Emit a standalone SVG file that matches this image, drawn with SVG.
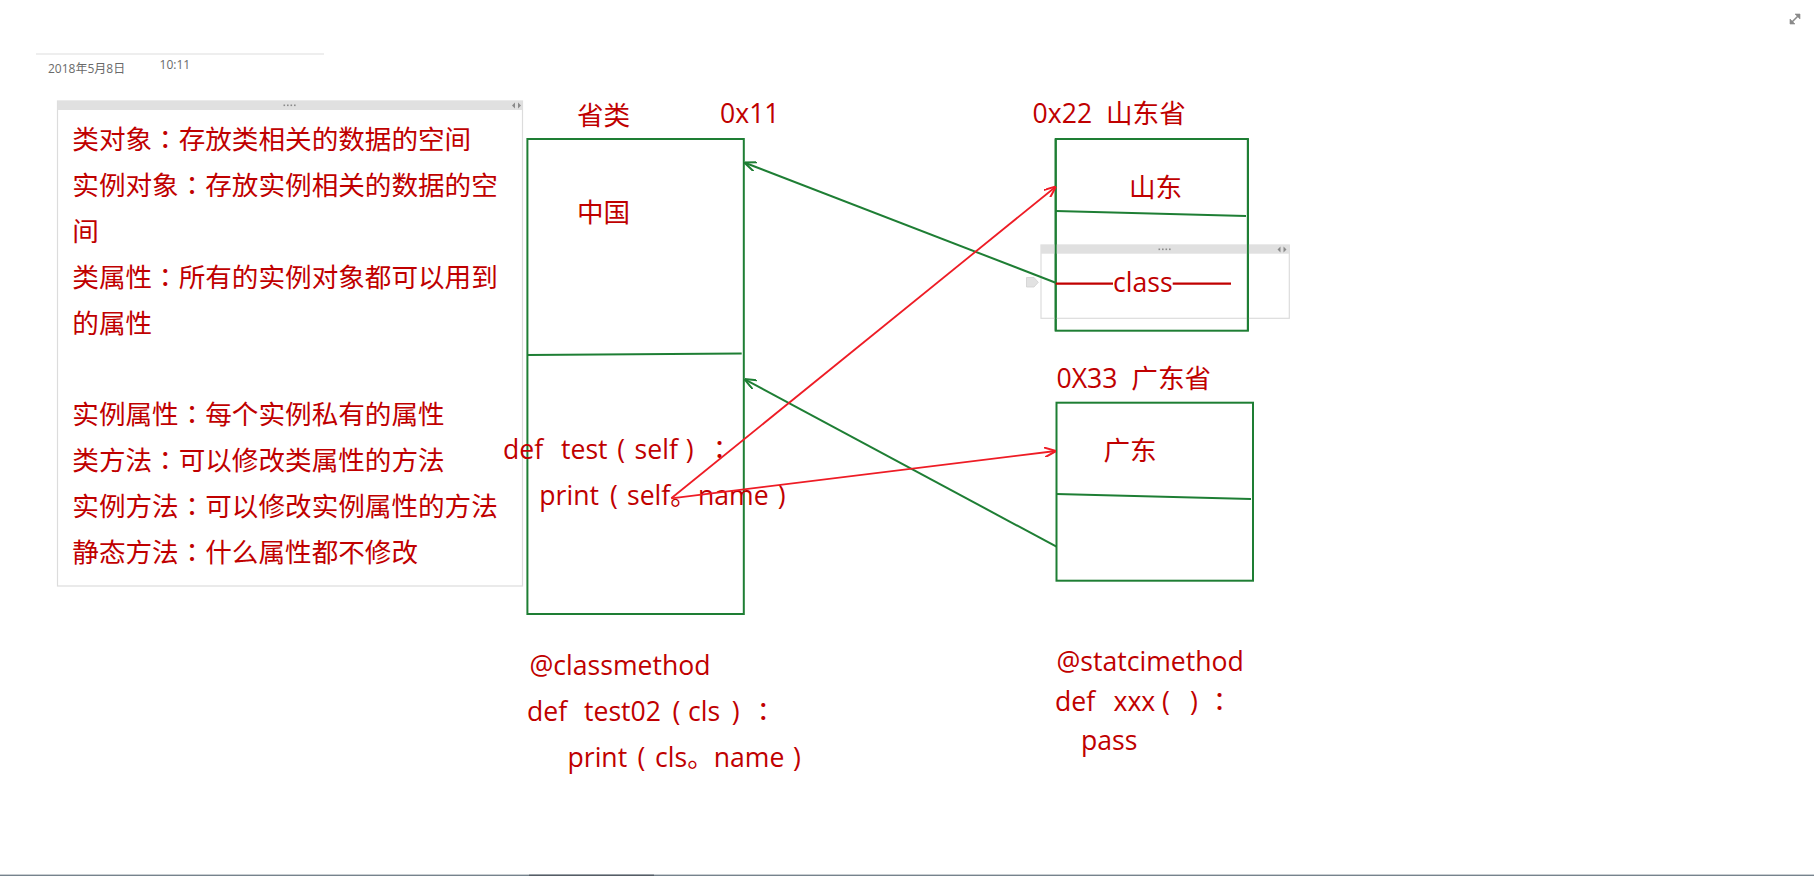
<svg xmlns="http://www.w3.org/2000/svg" width="1814" height="876" viewBox="0 0 1814 876">
<style>
  .t { font-family: "Open Sans", "Noto Sans CJK SC", sans-serif; font-size: 26.6px; fill: #C00000; white-space: pre; }
  .c { font-family: "Noto Sans CJK TC", "Noto Sans CJK SC", sans-serif; }
  .small { font-family: "Open Sans", "Noto Sans CJK SC", sans-serif; font-size: 12px; fill: #6a6a6a; }
  .box { fill: none; stroke: #1E7E34; stroke-width: 2; }
  .gline { fill: none; stroke: #1E7E34; stroke-width: 2; }
  .garrow { fill: none; stroke: #1E7E34; stroke-width: 2; marker-end: url(#ga); }
  .rarrow { fill: none; stroke: #EE1C25; stroke-width: 1.8; marker-end: url(#ra); }
  .panel { fill: none; stroke: #dcdcdc; stroke-width: 1.2; }
  .hdr { fill: #e0e0e0; }
  .ui { fill: #8a8a8a; }
</style>
<defs>
  <marker id="ga" viewBox="0 0 12 10" refX="11.5" refY="5" markerWidth="12" markerHeight="10" markerUnits="userSpaceOnUse" orient="auto">
    <path d="M0,0 L12,5 L0,10" fill="none" stroke="#1E7E34" stroke-width="2"/>
  </marker>
  <marker id="ra" viewBox="0 0 12 10" refX="11.5" refY="5" markerWidth="12" markerHeight="10" markerUnits="userSpaceOnUse" orient="auto">
    <path d="M0,0 L12,5 L0,10" fill="none" stroke="#EE1C25" stroke-width="2"/>
  </marker>
</defs>
<rect x="0" y="0" width="1814" height="876" fill="#ffffff"/>

<g id="header">
  <line x1="36" y1="54" x2="324" y2="54" stroke="#dddddd" stroke-width="1.2"/>
  <text class="small" x="48" y="72.7">2018年5月8日</text>
  <text class="small" x="159.6" y="69">10:11</text>
  <g id="resize-icon" stroke="#8a8a8a" stroke-width="1.6" fill="#8a8a8a">
    <line x1="1791" y1="23" x2="1799" y2="15"/>
    <path d="M1795,14 L1800,14 L1800,19 Z" stroke-width="0.6"/>
    <path d="M1790,19 L1790,24 L1795,24 Z" stroke-width="0.6"/>
  </g>
</g>

<g id="notes-panel">
  <rect class="panel" x="57.5" y="101" width="465" height="485"/>
  <rect class="hdr" x="57.5" y="101" width="465" height="9"/>
  <g class="ui">
    <rect x="283.5" y="104.5" width="1.6" height="1.6"/>
    <rect x="287" y="104.5" width="1.6" height="1.6"/>
    <rect x="290.5" y="104.5" width="1.6" height="1.6"/>
    <rect x="294" y="104.5" width="1.6" height="1.6"/>
    <path d="M515,102.5 L512,105.5 L515,108.5 Z"/>
    <path d="M518,102.5 L521,105.5 L518,108.5 Z"/>
  </g>
  <text class="t" x="72.3" y="149">类对象<tspan class="c">：</tspan>存放类相关的数据的空间</text>
  <text class="t" x="72.3" y="194.9">实例对象<tspan class="c">：</tspan>存放实例相关的数据的空</text>
  <text class="t" x="72.3" y="240.8">间</text>
  <text class="t" x="72.3" y="286.7">类属性<tspan class="c">：</tspan>所有的实例对象都可以用到</text>
  <text class="t" x="72.3" y="332.6">的属性</text>
  <text class="t" x="72.3" y="424.4">实例属性<tspan class="c">：</tspan>每个实例私有的属性</text>
  <text class="t" x="72.3" y="470.3">类方法<tspan class="c">：</tspan>可以修改类属性的方法</text>
  <text class="t" x="72.3" y="516.2">实例方法<tspan class="c">：</tspan>可以修改实例属性的方法</text>
  <text class="t" x="72.3" y="562.1">静态方法<tspan class="c">：</tspan>什么属性都不修改</text>
</g>

<g id="province-class">
  <text class="t" x="577" y="125">省类</text>
  <text class="t" x="720" y="123">0x11</text>
  <rect class="box" x="527.4" y="139" width="216.4" height="475"/>
  <line class="gline" x1="527.4" y1="355" x2="741.7" y2="353.5"/>
  <text class="t" x="577" y="221.7">中国</text>
  <text class="t" y="459.3"><tspan x="503">def </tspan><tspan x="561">test </tspan><tspan x="617.2">( </tspan><tspan x="634.6">self </tspan><tspan x="685.8">) </tspan><tspan class="c" x="706.2">：</tspan></text>
  <text class="t" y="505"><tspan x="539.3">print </tspan><tspan x="610">(</tspan><tspan x="627">self。</tspan><tspan x="698">name </tspan><tspan x="777.7">)</tspan></text>
</g>

<g id="classmethod-text">
  <text class="t" x="529.5" y="675">@classmethod</text>
  <text class="t" y="720.7"><tspan x="527">def </tspan><tspan x="584">test02 </tspan><tspan x="672.4">( </tspan><tspan x="688">cls </tspan><tspan x="731.7">) </tspan><tspan class="c" x="749.9">：</tspan></text>
  <text class="t" y="767.3"><tspan x="567.5">print </tspan><tspan x="637.4">(</tspan><tspan x="655">cls。</tspan><tspan x="713.7">name </tspan><tspan x="793">)</tspan></text>
</g>

<g id="shandong">
  <text class="t" x="1032.6" y="123">0x22  山东省</text>
  <rect class="box" x="1055.7" y="139" width="192.2" height="191.7"/>
  <line class="gline" x1="1055.7" y1="211" x2="1246" y2="216"/>
  <text class="t" x="1129" y="197.3">山东</text>
</g>

<g id="class-panel">
  <rect class="panel" x="1041" y="245" width="248.3" height="73.3"/>
  <rect class="hdr" x="1041" y="245" width="248.3" height="8.7"/>
  <g class="ui">
    <rect x="1158.5" y="248.5" width="1.6" height="1.6"/>
    <rect x="1162" y="248.5" width="1.6" height="1.6"/>
    <rect x="1165.5" y="248.5" width="1.6" height="1.6"/>
    <rect x="1169" y="248.5" width="1.6" height="1.6"/>
    <path d="M1280.5,246.5 L1277.5,249.5 L1280.5,252.5 Z"/>
    <path d="M1283.5,246.5 L1286.5,249.5 L1283.5,252.5 Z"/>
  </g>
  <path d="M1026.5,277.5 L1034,277.5 L1038.3,282.3 L1034,287 L1026.5,287 Z" fill="#e2e2e2" stroke="#d0d0d0" stroke-width="0.8"/>
  <line x1="1055.7" y1="139" x2="1055.7" y2="330.7" stroke="#1E7E34" stroke-width="2"/>
  <line x1="1247.9" y1="139" x2="1247.9" y2="330.7" stroke="#1E7E34" stroke-width="2"/>
  <line x1="1055.7" y1="283.7" x2="1113" y2="283.7" stroke="#C00000" stroke-width="2.2"/>
  <line x1="1172.7" y1="283.7" x2="1231" y2="283.7" stroke="#C00000" stroke-width="2.2"/>
  <text class="t" x="1113" y="291.7">class</text>
</g>

<g id="guangdong">
  <text class="t" x="1056.5" y="388.3">0X33  广东省</text>
  <rect class="box" x="1056.5" y="402.7" width="196.5" height="178"/>
  <line class="gline" x1="1056.5" y1="494" x2="1251" y2="499"/>
  <text class="t" x="1103.5" y="460">广东</text>
</g>

<g id="staticmethod-text">
  <text class="t" x="1056.5" y="670.7">@statcimethod</text>
  <text class="t" y="710.7"><tspan x="1055">def </tspan><tspan x="1113.5">xxx </tspan><tspan x="1162">( </tspan><tspan x="1190">) </tspan><tspan class="c" x="1206.2">：</tspan></text>
  <text class="t" x="1081" y="750">pass</text>
</g>

<g id="connectors">
  <line class="garrow" x1="1055.7" y1="282.7" x2="744.8" y2="162.7"/>
  <line class="garrow" x1="1056.5" y1="546.7" x2="744.8" y2="379.3"/>
  <line class="rarrow" x1="671.3" y1="498.3" x2="1055.7" y2="186.7"/>
  <line class="rarrow" x1="671.3" y1="498.3" x2="1055.7" y2="451"/>
</g>

<g id="bottom-bar">
  <rect x="0" y="874.6" width="1814" height="1.4" fill="#76838d"/>
  <rect x="529" y="874.6" width="125" height="1.4" fill="#555d66"/>
</g>
</svg>
